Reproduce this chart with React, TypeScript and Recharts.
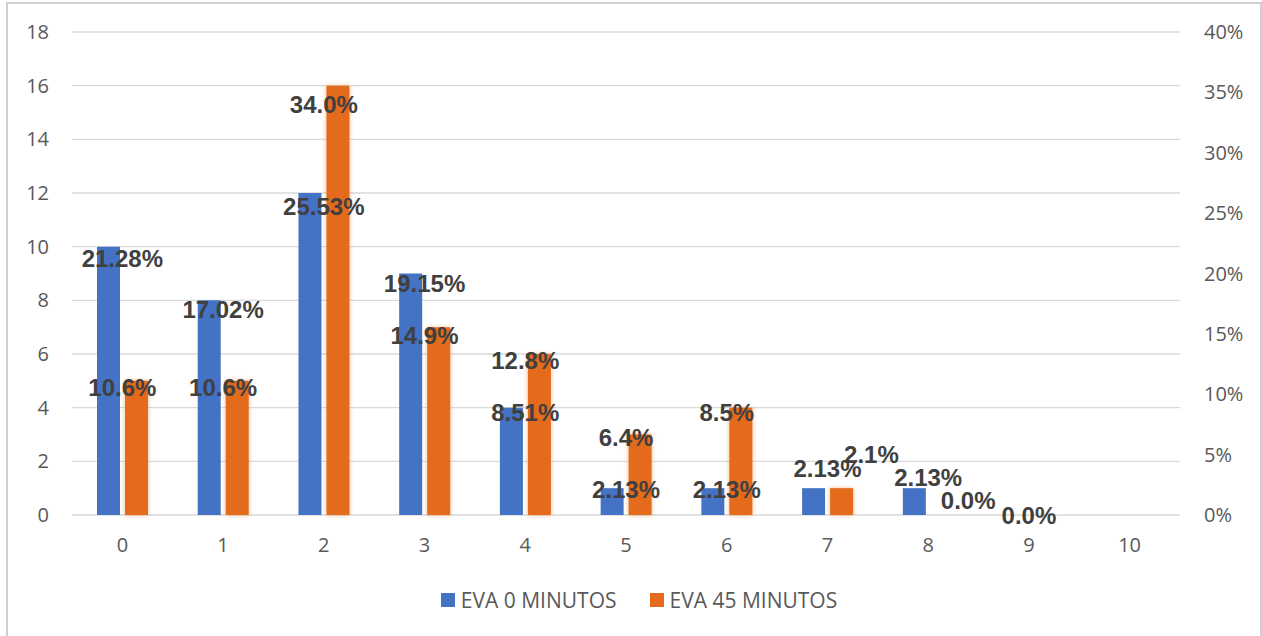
import {
  ComposedChart,
  Bar,
  Line,
  XAxis,
  YAxis,
  CartesianGrid,
  Legend,
  LabelList,
} from "recharts";

const categories = ["0", "1", "2", "3", "4", "5", "6", "7", "8", "9", "10"];
const seriesNames = ["EVA 0 MINUTOS", "EVA 45 MINUTOS"];
const eva0 = [10, 8, 12, 9, 4, 1, 1, 1, 1, 0, 0];
const eva45 = [5, 5, 16, 7, 6, 3, 4, 1, 0, 0, 0];
const eva0Pct = [21.28, 17.02, 25.53, 19.15, 8.51, 2.13, 2.13, 2.13, 2.13, null, null];
const eva45Pct = [10.6, 10.6, 34.0, 14.9, 12.8, 6.4, 8.5, 2.1, 0.0, 0.0, null];
const countTicks = [0, 2, 4, 6, 8, 10, 12, 14, 16, 18];
const pctTicks = [0, 5, 10, 15, 20, 25, 30, 35, 40];

const BLUE = "#4472C4";
const ORANGE = "#E46A1E";
const TEXT = "#595959";

const data = categories.map((c, i) => ({
  cat: c,
  a: eva0[i],
  b: eva45[i],
  pa: eva0Pct[i],
  pb: eva45Pct[i],
}));

// labels that were dragged away from their point to avoid overlapping
const nudges: Record<string, [number, number]> = {
  "pa:7": [0, -21],
  "pb:7": [44, -35],
  "pa:8": [0, -12],
  "pb:8": [40, -15],
};

const pctLabel = (key: string, digits: number) => (props: any) => {
  const { x, y, value, index } = props;
  if (value == null) return null;
  const [dx, dy] = nudges[`${key}:${index}`] ?? [0, 0];
  return (
    <text
      x={x + dx}
      y={y + dy}
      dy="0.36em"
      textAnchor="middle"
      fill="#404040"
      fontSize={24}
      fontWeight="bold"
      fontFamily="'Liberation Sans', Arial, sans-serif"
    >
      {`${Number(value).toFixed(digits)}%`}
    </text>
  );
};

const renderLegend = () => (
  <div
    style={{
      display: "flex",
      justifyContent: "center",
      alignItems: "center",
      height: 44,
      paddingLeft: 16,
      gap: 33,
      fontFamily: "'Open Sans', sans-serif",
      fontSize: 21,
      color: TEXT,
    }}
  >
    {seriesNames.map((name, i) => (
      <div key={name} style={{ display: "flex", alignItems: "center" }}>
        <span
          style={{
            width: 14,
            height: 14,
            background: i === 0 ? BLUE : ORANGE,
            marginRight: 6,
            display: "inline-block",
          }}
        />
        {name}
      </div>
    ))}
  </div>
);

export default function App() {
  const tick = { fill: TEXT, fontSize: 20, fontFamily: "'Open Sans', sans-serif" };
  return (
    <div style={{ width: 1262, height: 636, margin: -8, background: "#fff" }}>
      {/* light frame around the whole chart */}
      <div
        style={{
          position: "fixed",
          left: 6,
          top: 2,
          width: 1256,
          height: 650,
          border: "2px solid #cfcfcf",
          boxSizing: "border-box",
          pointerEvents: "none",
          zIndex: 10,
        }}
      />
      <ComposedChart
        width={1262}
        height={636}
        data={data}
        margin={{ top: 32, right: 12, left: 12, bottom: 14 }}
        barSize={23}
        barGap={5}
      >
        <defs>
          <filter id="orangeGlow" x="-40%" y="-10%" width="180%" height="125%">
            <feGaussianBlur in="SourceGraphic" stdDeviation="2.5" result="blur" />
            <feComponentTransfer in="blur" result="soft">
              <feFuncA type="linear" slope="0.45" />
            </feComponentTransfer>
            <feMerge>
              <feMergeNode in="soft" />
              <feMergeNode in="SourceGraphic" />
            </feMerge>
          </filter>
        </defs>
        <CartesianGrid yAxisId="count" vertical={false} stroke="#d9d9d9" strokeWidth={1.3} />
        <XAxis
          dataKey="cat"
          height={63}
          axisLine={false}
          tickLine={false}
          tickMargin={17}
          tick={tick}
          interval={0}
        />
        <YAxis
          yAxisId="count"
          width={60}
          domain={[0, 18]}
          ticks={countTicks}
          axisLine={false}
          tickLine={false}
          tickMargin={17}
          tick={tick}
        />
        <YAxis
          yAxisId="pct"
          orientation="right"
          width={70}
          domain={[0, 40]}
          ticks={pctTicks}
          tickFormatter={(v) => `${v}%`}
          axisLine={false}
          tickLine={false}
          tickMargin={18}
          tick={{ ...tick, textAnchor: "start" }}
        />
        <Legend verticalAlign="bottom" content={renderLegend} />
        <Bar yAxisId="count" dataKey="a" name={seriesNames[0]} fill={BLUE} isAnimationActive={false} />
        <Bar
          yAxisId="count"
          dataKey="b"
          name={seriesNames[1]}
          fill={ORANGE}
          filter="url(#orangeGlow)"
          isAnimationActive={false}
        />
        <Line
          yAxisId="pct"
          dataKey="pa"
          stroke="none"
          dot={false}
          activeDot={false}
          legendType="none"
          isAnimationActive={false}
        >
          <LabelList dataKey="pa" content={pctLabel("pa", 2)} />
        </Line>
        <Line
          yAxisId="pct"
          dataKey="pb"
          stroke="none"
          dot={false}
          activeDot={false}
          legendType="none"
          isAnimationActive={false}
        >
          <LabelList dataKey="pb" content={pctLabel("pb", 1)} />
        </Line>
      </ComposedChart>
    </div>
  );
}
